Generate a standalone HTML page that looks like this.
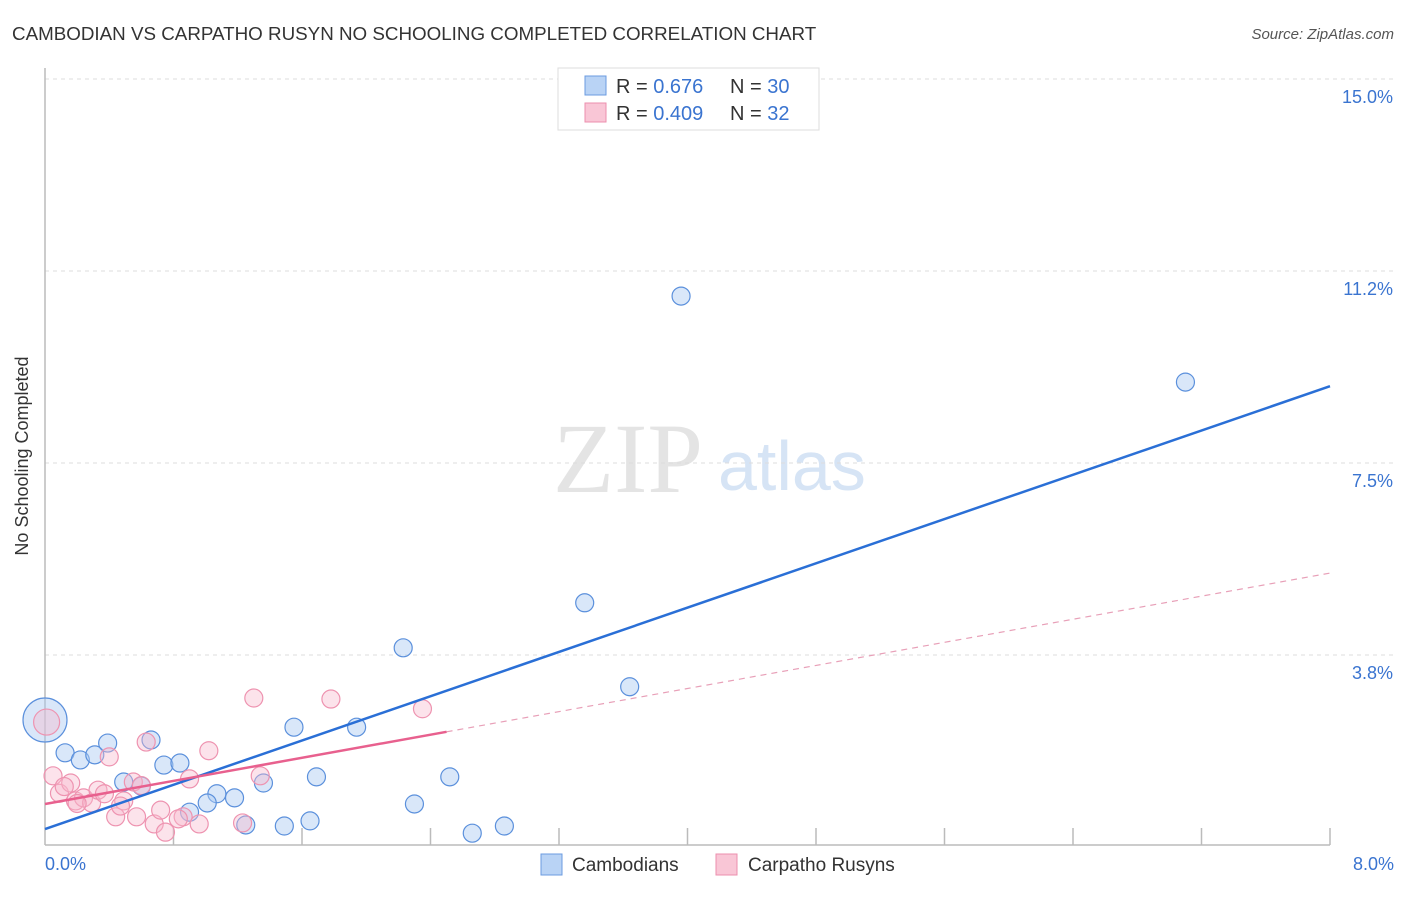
<!DOCTYPE html>
<html><head><meta charset="utf-8"><style>
body{margin:0;background:#fff;font-family:"Liberation Sans",sans-serif}
</style></head><body>
<svg width="1406" height="892" viewBox="0 0 1406 892" xmlns="http://www.w3.org/2000/svg">
<text x="12" y="40" font-size="18.8" fill="#333">CAMBODIAN VS CARPATHO RUSYN NO SCHOOLING COMPLETED CORRELATION CHART</text>
<text x="1394" y="39" font-size="15" fill="#555" font-style="italic" text-anchor="end">Source: ZipAtlas.com</text>
<text x="553" y="492" font-size="100" fill="#e4e4e4" font-family="Liberation Serif">ZIP</text>
<text x="718" y="490" font-size="70" fill="#d6e4f5">atlas</text>
<g id="grid"></g>
<line x1="45" y1="68" x2="45" y2="845" stroke="#bbb" stroke-width="1.5"/>
<line x1="45" y1="845" x2="1330" y2="845" stroke="#bbb" stroke-width="1.5"/>
<text x="28" y="456" font-size="18" fill="#333" text-anchor="middle" transform="rotate(-90 28 456)">No Schooling Completed</text>
<text x="45" y="870" font-size="18" fill="#3a74d0">0.0%</text>
<text x="1394" y="870" font-size="18" fill="#3a74d0" text-anchor="end">8.0%</text>
<g id="pts"></g>
<g id="lines"></g>
<g>
<rect x="558" y="68" width="261" height="62" fill="#fff" stroke="#ddd"/>
<rect x="585" y="76" width="21" height="19" fill="#b9d3f5" stroke="#6b9be0"/>
<rect x="585" y="103" width="21" height="19" fill="#f9c6d6" stroke="#ec8fae"/>
<text x="616" y="93" font-size="20" fill="#333">R = <tspan fill="#3a74d0">0.676</tspan><tspan x="730">N = </tspan><tspan fill="#3a74d0">30</tspan></text>
<text x="616" y="120" font-size="20" fill="#333">R = <tspan fill="#3a74d0">0.409</tspan><tspan x="730">N = </tspan><tspan fill="#3a74d0"> 32</tspan></text>
</g>
<g>
<rect x="541" y="854" width="21" height="21" fill="#b9d3f5" stroke="#6b9be0"/>
<text x="572" y="871" font-size="19" fill="#333">Cambodians</text>
<rect x="716" y="854" width="21" height="21" fill="#f9c6d6" stroke="#ec8fae"/>
<text x="748" y="871" font-size="19" fill="#333">Carpatho Rusyns</text>
</g>
</svg>
<script>
const yTicks=[3.75,7.5,11.25,15];
const yTickLabels=["3.8%","7.5%","11.2%","15.0%"];
const xTicks=[0.8,1.6,2.4,3.2,4.0,4.8,5.6,6.4,7.2,8.0];
const blueX=[0,0.125,0.22,0.31,0.39,0.66,0.74,0.84,0.49,0.60,1.07,1.01,1.18,1.36,1.25,1.49,1.65,1.69,1.55,1.94,2.23,2.30,2.52,2.66,2.86,3.36,3.64,3.96,7.10,0.90];
const blueY=[2.48,1.84,1.70,1.80,2.03,2.09,1.60,1.64,1.27,1.19,1.04,0.86,0.96,1.25,0.43,0.41,0.51,1.37,2.34,2.34,3.89,0.84,1.37,0.27,0.41,4.77,3.13,10.76,9.08,0.68];
const pinkX=[0.01,0.05,0.09,0.16,0.12,0.19,0.24,0.29,0.33,0.37,0.40,0.49,0.63,0.55,0.44,0.57,0.68,0.72,0.75,0.86,0.90,0.96,1.02,1.23,1.30,1.34,1.78,2.35,0.83,0.60,0.20,0.47];
const pinkY=[2.44,1.39,1.05,1.25,1.18,0.90,0.96,0.86,1.11,1.04,1.76,0.90,2.05,1.27,0.59,0.59,0.45,0.72,0.29,0.59,1.33,0.45,1.88,0.47,2.91,1.39,2.89,2.70,0.55,1.20,0.85,0.80];
const blueLine=[0.35,9.0];
const pinkLine=[0.84,2.25,5.35];
const X=v=>45+v*(1285/8), Y=v=>847-v*51.2;
const ns="http://www.w3.org/2000/svg";
function mk(t,a,p){const e=document.createElementNS(ns,t);for(const k in a)e.setAttribute(k,a[k]);document.getElementById(p).appendChild(e);return e;}
yTicks.forEach((t,i)=>{
 const l=mk('line',{x1:45,x2:1394,y1:Y(t),y2:Y(t),stroke:'#ddd','stroke-dasharray':'4,4'},'grid');
 
 
 const tx=mk('text',{x:1393,y:Y(t)+24,'font-size':18,fill:'#3a74d0','text-anchor':'end'},'grid');
 tx.textContent=yTickLabels[i];
 
 
});
xTicks.forEach(t=>{
 const l=mk('line',{x1:X(t),x2:X(t),y1:828,y2:845,stroke:'#bbb','stroke-width':1.5},'grid');
 
 
});
blueX.forEach((x,i)=>{
 const c=mk('circle',{cx:X(x),cy:Y(blueY[i]),r:i==0?22:9,fill:'rgba(170,202,242,0.45)',stroke:'#5b90dc','stroke-width':1.2},'pts');
 
 
});
pinkX.forEach((x,i)=>{
 const c=mk('circle',{cx:X(x),cy:Y(pinkY[i]),r:i==0?13:9,fill:'rgba(248,186,204,0.4)',stroke:'#ee93b0','stroke-width':1.2},'pts');
 
 
});
let l=mk('line',{x1:X(0),y1:Y(blueLine[0]),x2:X(8),y2:Y(blueLine[1]),stroke:'#2a6fd6','stroke-width':2.5},'lines');


l=mk('line',{x1:X(2.5),y1:Y(pinkLine[1]),x2:X(8),y2:Y(pinkLine[2]),stroke:'#e8a0b8','stroke-width':1.2,'stroke-dasharray':'6,5'},'lines');


l=mk('line',{x1:X(0),y1:Y(pinkLine[0]),x2:X(2.5),y2:Y(pinkLine[1]),stroke:'#e8608e','stroke-width':2.5},'lines');


</script>
</body></html>
